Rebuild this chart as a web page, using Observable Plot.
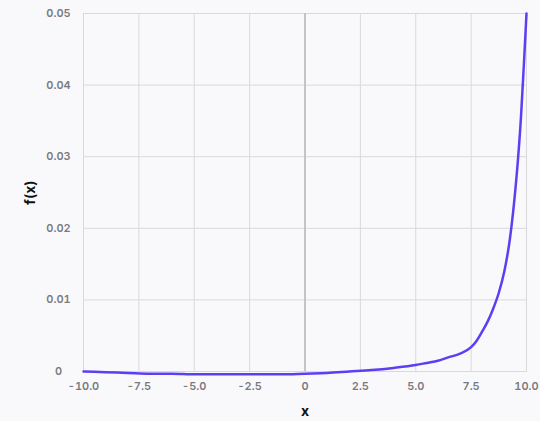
<!DOCTYPE html>
<html>
<head>
<meta charset="utf-8">
<script src="https://cdn.jsdelivr.net/npm/d3@7"></script>
<script src="https://cdn.jsdelivr.net/npm/@observablehq/plot@0.6"></script>
<style>
  html, body { margin: 0; padding: 0; background: #f9f9fc; }
  #chart svg { display: block; }
</style>
</head>
<body>
<div id="chart"></div>
<script>
const xValues = [-10, -9, -8, -7, -6, -5, -4, -3, -2, -1, 0, 1, 2, 3, 4, 5, 5.5, 6, 6.5, 7, 7.5, 7.75, 8, 8.25, 8.5, 8.75, 9, 9.25, 9.5, 9.625, 9.75, 9.875, 10];
const yValues = [0.0000, -0.0001, -0.0002, -0.0003, -0.0003, -0.0004, -0.0004, -0.0004, -0.0004, -0.0004, -0.0003, -0.0002, 0.0000, 0.0002, 0.0005, 0.0009, 0.0012, 0.0015, 0.0020, 0.0025, 0.0034, 0.0043, 0.0056, 0.0070, 0.0088, 0.0110, 0.0140, 0.0185, 0.0255, 0.0300, 0.0355, 0.0425, 0.0500];
const xTicks = [-10, -7.5, -5, -2.5, 0, 2.5, 5, 7.5, 10];
const xTickLabels = ["-10.0", "-7.5", "-5.0", "-2.5", "0", "2.5", "5.0", "7.5", "10.0"];
const yTicks = [0, 0.01, 0.02, 0.03, 0.04, 0.05];
const yTickLabels = ["0", "0.01", "0.02", "0.03", "0.04", "0.05"];

const data = xValues.map((x, i) => ({x, y: yValues[i]}));

const chart = Plot.plot({
  width: 540,
  height: 421,
  marginLeft: 83,
  marginRight: 14,
  marginTop: 13,
  marginBottom: 50,
  style: {background: "#f9f9fc", fontFamily: "Inter, sans-serif", overflow: "visible"},
  x: {domain: [-10, 10]},
  y: {domain: [0, 0.05]},
  marks: [
    Plot.gridX(xTicks, {stroke: "#d9d9dc", strokeOpacity: 1}),
    Plot.gridY(yTicks, {stroke: "#d9d9dc", strokeOpacity: 1}),
    Plot.frame({stroke: "#d9d9dc"}),
    Plot.ruleX([0], {stroke: "#c4c4c8", strokeWidth: 2}),
    Plot.axisX(xTicks, {
      tickSize: 0, tickPadding: 11, fontSize: 11, fontWeight: 600, fill: "#7a7a7e",
      tickFormat: (d) => xTickLabels[xTicks.indexOf(d)],
      label: "x", labelAnchor: "center", labelArrow: "none", labelOffset: 44
    }),
    Plot.axisY(yTicks, {
      tickSize: 0, tickPadding: 25, textAnchor: "middle", fontSize: 11, fontWeight: 600, fill: "#7a7a7e",
      tickFormat: (d) => yTickLabels[yTicks.indexOf(d)],
      label: "f(x)", labelAnchor: "center", labelArrow: "none", labelOffset: 58
    }),
    Plot.line(data, {x: "x", y: "y", stroke: "#5b3ff3", strokeWidth: 2.5, curve: "monotone-x"})
  ]
});

// style axis labels: black and bold
chart.querySelectorAll("[aria-label='x-axis label'] text, [aria-label='y-axis label'] text").forEach(t => {
  t.setAttribute("fill", "#111");
  t.setAttribute("font-weight", "700");
  t.setAttribute("font-size", "14");
});
document.getElementById("chart").append(chart);
</script>
</body>
</html>
